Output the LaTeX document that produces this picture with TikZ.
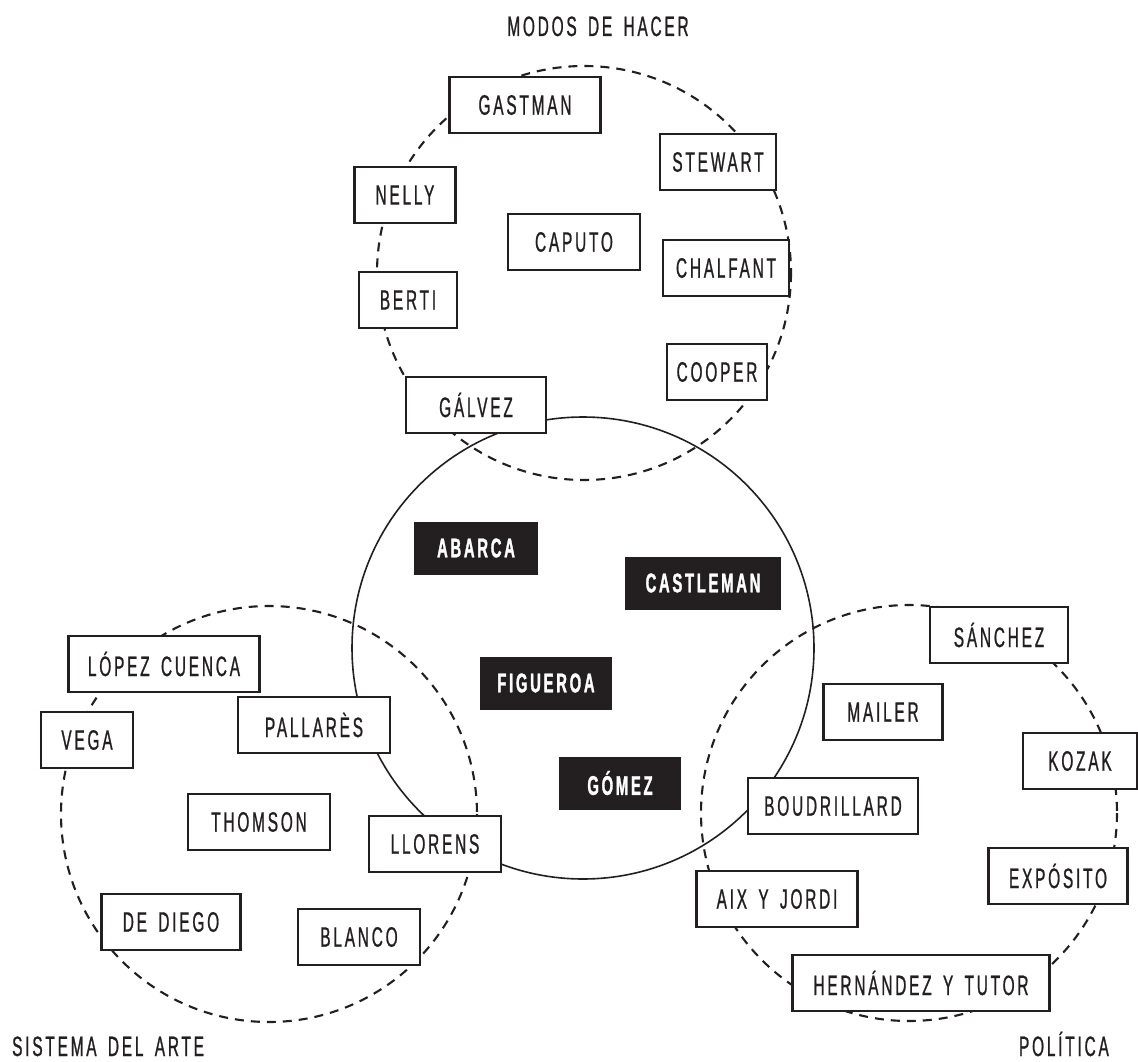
\documentclass[tikz,border=0pt]{standalone}
\usepackage{fontspec}
\setmainfont{Liberation Sans}[FakeStretch=0.55, LetterSpace=10, WordSpace=1.6,
  UprightFeatures={FakeBold=0.8}, BoldFeatures={FakeBold=1.2}]
\definecolor{ink}{HTML}{231F20}
\begin{document}
\begin{tikzpicture}[x=1pt, y=-1pt,
  dashring/.style={draw=ink, line width=2.1pt, dash pattern=on 9pt off 7pt},
  solidring/.style={draw=ink, line width=1.6pt},
  namebox/.style={draw=ink, line width=2.2pt, fill=white, minimum height=56pt,
    inner sep=0pt, font=\fontsize{28}{28}\selectfont, text=ink},
  corebox/.style={fill=ink, minimum height=53pt, inner sep=0pt,
    font=\bfseries\fontsize{27}{27}\selectfont, text=white},
  grouplabel/.style={inner sep=0pt, font=\fontsize{28}{28}\selectfont, text=ink}]
% canvas
\fill[white] (0,0) rectangle (1138,1062);
\useasboundingbox (0,0) rectangle (1138,1062);

% rings
\draw[dashring] (584,273) circle (207);
\draw[dashring] (269,814) circle (208);
\draw[dashring] (909,813) circle (208);
\draw[solidring] (583,648) circle (231);

% group labels (placed by baseline)
\node[grouplabel, anchor=base] (modos) at (598,36) {MODOS DE HACER};
\node[grouplabel, anchor=base west] (sistema) at (12,1056) {SISTEMA DEL ARTE};
\node[grouplabel, anchor=base east] (politica) at (1109,1056) {POLÍTICA};

% modos de hacer
\node[namebox, minimum width=151pt] (gastman) at (525,105) {GASTMAN};
\node[namebox, minimum width=116pt] (stewart) at (718,162) {STEWART};
\node[namebox, minimum width=101pt] (nelly) at (405,195) {NELLY};
\node[namebox, minimum width=132pt] (caputo) at (574,242) {CAPUTO};
\node[namebox, minimum width=126pt] (chalfant) at (726,268) {CHALFANT};
\node[namebox, minimum width=98pt] (berti) at (408,300) {BERTI};
\node[namebox, minimum width=100pt] (cooper) at (717,372) {COOPER};
\node[namebox, minimum width=140pt] (galvez) at (476,405) {GÁLVEZ};

% core
\node[corebox, minimum width=124pt] (abarca) at (476,548) {ABARCA};
\node[corebox, minimum width=156pt] (castleman) at (703,583) {CASTLEMAN};
\node[corebox, minimum width=132pt] (figueroa) at (546,683) {FIGUEROA};
\node[corebox, minimum width=122pt] (gomez) at (620,783) {GÓMEZ};

% sistema del arte
\node[namebox, minimum width=191pt] (lopez) at (164,664) {LÓPEZ CUENCA};
\node[namebox, minimum width=92pt] (vega) at (87,740) {VEGA};
\node[namebox, minimum width=152pt] (pallares) at (314,725) {PALLARÈS};
\node[namebox, minimum width=142pt] (thomson) at (259,822) {THOMSON};
\node[namebox, minimum width=132pt] (llorens) at (435,844) {LLORENS};
\node[namebox, minimum width=139pt] (diego) at (171,922) {DE DIEGO};
\node[namebox, minimum width=122pt] (blanco) at (359,937) {BLANCO};

% politica
\node[namebox, minimum width=138pt] (sanchez) at (999,635) {SÁNCHEZ};
\node[namebox, minimum width=119pt] (mailer) at (883,712) {MAILER};
\node[namebox, minimum width=114pt] (kozak) at (1080,761) {KOZAK};
\node[namebox, minimum width=170pt] (boudrillard) at (833,806) {BOUDRILLARD};
\node[namebox, minimum width=139pt] (exposito) at (1058,876) {EXPÓSITO};
\node[namebox, minimum width=161pt] (aix) at (777,899) {AIX Y JORDI};
\node[namebox, minimum width=257pt] (hernandez) at (921,983) {HERNÁNDEZ Y TUTOR};
\end{tikzpicture}
\end{document}
